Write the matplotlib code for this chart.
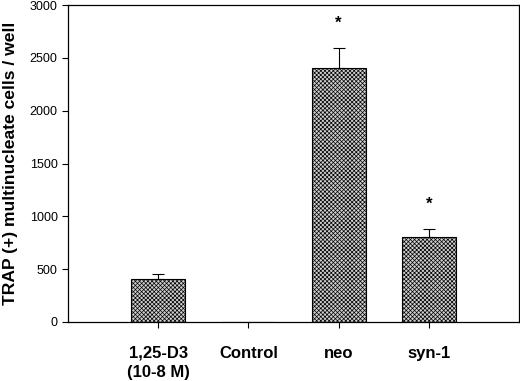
import matplotlib
matplotlib.use("Agg")
import matplotlib.pyplot as plt

# data
groups = ["1,25-D3\n(10-8 M)", "Control", "neo", "syn-1"]
means = [410, 0, 2400, 807]
errs = [45, 0, 190, 70]
stars = [False, False, True, True]

plt.rcParams['font.family'] = ['Liberation Sans', 'DejaVu Sans']
plt.rcParams['hatch.linewidth'] = 0.5
plt.rcParams['hatch.color'] = '#5a5a5a'

fig = plt.figure(figsize=(5.2, 3.81), dpi=100)
ax = fig.add_axes([68 / 520, 1 - 322 / 381, 451 / 520, 317 / 381])

x = [1, 2, 3, 4]
ax.bar(x, means, width=0.6, color='#cfcfcf', edgecolor='black',
       linewidth=0.8, hatch='xxxxxxxx')
for xi, m, e in zip(x, means, errs):
    if e > 0:
        ax.errorbar(xi, m, yerr=[[0], [e]], fmt='none', ecolor='black',
                    elinewidth=0.8, capsize=4, capthick=0.8)
for xi, m, e, s in zip(x, means, errs, stars):
    if s:
        ax.text(xi, m + e + 240, "*", ha='center', va='center',
                fontsize=12, fontweight='bold')

ax.set_xlim(0, 5)
ax.set_ylim(0, 3000)
ax.set_yticks([0, 500, 1000, 1500, 2000, 2500, 3000])
ax.set_xticks(x)
ax.set_xticklabels(groups, fontsize=12, fontweight='bold', linespacing=1.35)
ax.tick_params(axis='y', labelsize=9, direction='out', length=4, width=0.8)
ax.tick_params(axis='x', direction='out', length=4, width=0.8, pad=13)
ax.set_ylabel("TRAP (+) multinucleate cells / well", fontsize=12.6,
              fontweight='bold', labelpad=8)
for sp in ax.spines.values():
    sp.set_linewidth(0.9)

fig.savefig("out.png", dpi=100)
